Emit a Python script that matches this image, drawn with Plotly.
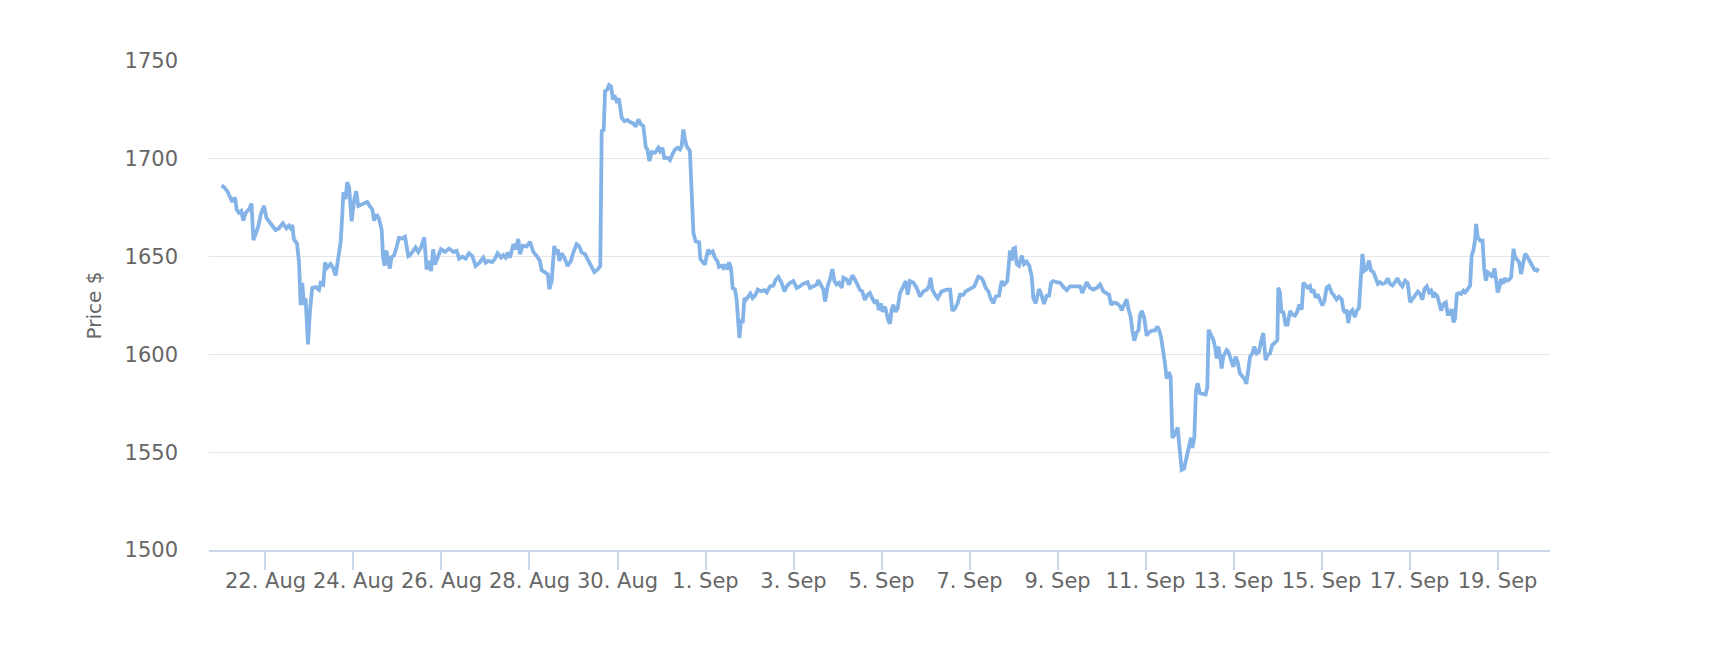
import pandas as pd
import plotly.graph_objects as go

# Hours since 2023-08-21 00:00 and price readings
hours = [
    0, 1.4, 3.2, 4.5, 5.9, 7.4, 8.3, 9.5, 10.8, 11.9, 13.2, 15, 16.4, 17.4, 18.6, 20.1, 21.4, 23.2, 24.5, 25.9,
    27.7, 29.5, 31.4, 33.5, 35.4, 36.8, 38.3, 38.6, 39.5, 41.2, 42.3, 43.2, 44.1, 45, 45.9, 47.2, 48.3, 49.5, 51.4, 53.2,
    54.1, 55.5, 56.5, 57.7, 59.5, 60.8, 62.3, 63.2, 65, 65.9, 66.5, 67.7, 68.6, 69.6, 71, 72.3, 73.5, 74.6, 76.8, 79.5,
    80.8, 82.3, 83.2, 84.6, 85.9, 87.4, 88.1, 89, 89.9, 91, 91.8, 92.8, 94.1, 95.4, 96.8, 98.6, 100.1, 101.9,
    102.8, 104.6, 105.9, 107.4, 108.8, 110.6, 111.9, 112.8, 114.3, 115.5, 116.5, 117.9, 119.7, 121.9, 124.1,
    126.5, 128.3, 129.6, 131.4, 133.2, 135, 136.8, 138.6, 140.5, 142.8, 144.1, 145.5, 147.7, 149.2, 150.6,
    152.5, 153.7, 155, 156.1, 157.4, 159.2, 160.5, 161.9, 162.8, 164.3, 166.5, 168.3, 170.1, 172, 173.7,
    174.6, 176.5, 178, 178.8, 180.1, 181.5, 182.5, 183.4, 184.3, 185.5, 187, 188.8, 190.6, 191.9, 193.7,
    195, 196.5, 198.3, 199.7, 201.5, 203.4, 205.2,
    206.6, 207.4, 208.5, 209.2, 210.3, 211.4, 212.5, 213.4, 214.6, 215.5, 216.8, 218.3, 219.7, 221.5, 222.8,
    224.6, 225.9, 227.4, 228.8, 230.1, 231.4, 232.3, 233.4, 234.6, 236.5, 238.3, 239.2, 240.5, 241.5, 243.4,
    244.6, 245.9, 247.4, 248.8, 250.1, 251, 251.9, 252.8, 253.7, 255.5, 256.5, 257.4, 258.6, 260.5, 261.2,
    262.3, 263.7, 264.6, 265.5, 266.5, 267.9, 269.2, 270.5, 271.4, 272.8, 273.7, 275, 275.9, 276.8, 277.9,
    278.8, 280.1, 281, 281.9, 282.5, 283.4, 284.3, 285.2, 286.1, 287.4, 288.5, 289.7, 291, 292.5, 294.3,
    296.1, 297.4, 299.2, 301, 302.3, 303.7,
    305.5, 307, 308.3, 310.1, 311.9, 313.7, 315.5, 317.4, 319.7, 321, 322.8, 324.6, 325.5, 327, 328.3,
    329.2, 330.6, 331.9, 333.2, 334.3, 335.5, 336.8, 338.3, 339.2, 341, 342.3, 344.1, 345.5, 347, 348.3,
    349.5, 350.9, 352.4, 353.7, 354.9, 356.4, 357.4, 358.6, 359.7, 360.6, 361.9, 362.8, 363.7, 364.6, 365.5,
    366.4, 367.7, 368.8, 370.1, 371.9, 373.2, 374.3, 375.5, 377.4, 379.2, 381, 382.8, 384.6, 385.9, 386.8,
    387.7, 389.2, 390.6, 392.8, 395.5, 397.4, 398.6, 400.1, 401.5, 402.8, 404.6, 405.9, 407.4, 409.2, 410.6,
    412.8, 414.3, 415.5, 416.8, 418.3, 419.5, 421, 422.3, 424.1, 425.5, 427, 428.6, 430.1, 431, 431.9,
    432.8, 433.7, 435, 436.5, 437.7, 439.2, 440.6, 441.9, 442.8, 444.1, 445.9, 447.4, 448.6, 450.1, 451.4,
    452.5, 453.7, 455.5, 457.4, 459.2, 461, 462.8, 464.6, 466.5, 468.3, 469.5, 470.6, 471.9, 473.7, 475.5,
    477.4, 479.2, 481, 482.8, 484.1, 485.2, 486.5, 488.3, 490.1, 491, 492.5, 493.7, 494.6, 495.9, 496.8,
    497.9, 499.2, 500.1, 501, 501.9, 503.2, 504.6, 505.9, 507.4, 509.2, 510.5, 511.5, 512.5,
    514.6, 515.5, 516.8, 517.7, 518.6, 520, 521.5, 522.8, 523.7, 525, 526.4, 527.7, 528.8, 529.5, 530.6,
    531.5, 532.4, 533.7, 535.5, 536.8, 537.7, 538.4, 539.7, 541, 541.9, 542.8, 543.7, 544.6, 545.5, 546.4,
    547.3, 548.2, 549.1, 550.6, 551.9, 553.1, 554.2, 555.5, 556.8, 557.9, 559, 559.7, 561, 562.3, 563.3,
    564.6, 565.9, 567, 568.2, 569.5, 570.6, 571.9, 573.1, 574.6, 575.9, 576.4, 577.3, 578.2, 579.1, 580.4,
    581.5, 582.8, 584.1, 585.5, 586.8, 587.9, 589.2, 590.1, 591, 592.4, 593.7, 594.6, 595.5, 596.8, 597.9,
    599.2, 600.4, 601.5, 602.8, 604.1, 605.5, 607, 608.2, 609.5, 611, 611.9, 612.8, 613.7, 614.6, 615.5,
    616.8, 618.2, 619.1, 620.4,
    621.6, 622.3, 623.4, 624.7, 625.9, 627, 628.3, 629.6, 630.7, 631.9, 633.2, 634.7, 636.1, 637.4, 638.7,
    640.1, 641.4, 642.9, 644.1, 645.6, 647, 648.3, 649.6, 651, 652.5, 653.8, 655, 656.1, 657.4, 658.7,
    659.8, 661, 661.9, 663.2, 664.1, 665.2, 666.5, 667.8, 668.8, 670.1, 671, 671.9, 672.8, 673.8, 675,
    676.1, 677.4, 678.3, 679.8, 681, 681.9, 682.8, 683.8, 684.3, 685.2, 686.5, 687.8, 688.7, 689.6, 690.7,
    691.9, 693.2, 694.3, 695.2, 696.1, 697, 697.9, 698.9, 699.8, 701, 702.3, 703.4, 704.7, 705.6, 706.8,
    707.8, 708.8, 710.1, 711, 711.9, 713.2, 714.6, 716.1, 717.4, 718.3,
]

price = [
    1686.4, 1685.5, 1683.4, 1680.6, 1678, 1680.2, 1674.1, 1672.4, 1673.3, 1668.4, 1672.4, 1674.1, 1677.1, 1658.4, 1661.9,
    1665.4, 1671.5, 1675.9, 1669.8, 1668, 1665.4, 1663.6, 1664.5, 1667.1, 1664.5, 1665.9, 1663.6, 1666.3, 1658.9, 1656.6,
    1647, 1625.2, 1636.5, 1625.2, 1628.7, 1605.1, 1622.6, 1633.9, 1634.4, 1633, 1636.5, 1635.7, 1647, 1644.4, 1646.2,
    1644.4, 1640.4, 1647, 1657.5, 1671.5, 1682.9, 1679.4, 1688.1, 1685.5, 1668, 1678.5, 1683.4, 1675.9, 1676.7, 1678,
    1675.9, 1674.1, 1668.4, 1671.5, 1669.4, 1663.6, 1649.7, 1645.3, 1653.1, 1647.9, 1643.9, 1649.7, 1650.5, 1654.4, 1659.6,
    1659.3, 1660.1, 1650.2,
    1650.7, 1652.9, 1654.7, 1652.4, 1654.7, 1659.8, 1643.4, 1647.8, 1642.6, 1653.8, 1646, 1649.5, 1653.8, 1652.4, 1654.1,
    1652.4, 1652.9, 1649, 1650, 1649, 1651.7, 1650.3, 1645.2, 1646.6, 1649.5, 1646.9, 1647.8, 1647.2, 1649, 1651.7,
    1649.5, 1650.7, 1649.5, 1652.1, 1649.5, 1656.4, 1653.8, 1659, 1651.2, 1655.5, 1655.2, 1657.6, 1652.4, 1650.3, 1647.8,
    1643.1, 1642.1, 1640.9, 1633.4, 1637.4, 1655.5, 1651.2, 1653.8, 1647.8, 1651.7, 1649.5, 1645.2, 1647.8, 1652.1, 1656.4,
    1655.5, 1652.1, 1651.2, 1648.6, 1646, 1642.1, 1643.4,
    1645.1, 1714.2, 1714.7, 1734.6, 1735.2, 1737.7, 1736.9, 1731.2, 1731.7, 1729.5, 1730.7, 1721, 1719.3, 1719.8, 1718.8,
    1718.1, 1716.4, 1720.1, 1717.6, 1716.7, 1706.1, 1704.8, 1698.8, 1703.4, 1703.1, 1705.6, 1703.9, 1705.6, 1700.5, 1700.5,
    1699.3, 1702.2, 1704.8, 1705.6, 1704.8, 1706.5, 1715, 1709.9, 1706.5, 1703.9, 1682.6, 1662.1, 1657.8, 1657.3, 1648.8,
    1647.6, 1645.9, 1650.2, 1653.6, 1651.9, 1652.7, 1649.3, 1647.6, 1644.7, 1645.4, 1644.2, 1645.9, 1643.3, 1647.1, 1644.2,
    1634, 1633.1, 1628, 1616, 1608.4, 1617.7, 1616, 1628.8, 1628, 1629.7, 1631.1, 1628.8, 1630, 1633.1, 1632.3,
    1632.8, 1631.7, 1634.8, 1635.2, 1638.2, 1639.6,
    1636.6, 1632.2, 1634.8, 1636.6, 1637.5, 1634, 1634.8, 1636.2, 1636.9, 1634, 1634.8, 1635.7, 1638, 1635.7, 1633.1,
    1627, 1634.8, 1638.3, 1643.6, 1637.5, 1635.7, 1636.6, 1634, 1639.2, 1638.3, 1635.7, 1640.4, 1638.3, 1634.8, 1632.8,
    1632.2, 1627.9, 1630.5, 1631.4, 1628.7, 1626.1, 1627.9, 1622.6, 1626.1, 1621.8, 1624.4, 1620, 1617.4, 1615.7, 1622.6,
    1625.3, 1621.8, 1623.5, 1631.4, 1634.8, 1637.5, 1630.5, 1637.5, 1636.6, 1634, 1629.6, 1632.2, 1633.1, 1634.8, 1639.2,
    1633.1, 1630.5, 1628.7, 1632.2, 1633.1, 1633.1, 1622.3, 1623.5, 1626.1, 1630.5, 1630.5, 1632.2, 1633.1, 1634, 1634.8,
    1639.7, 1639.2, 1637.5, 1634, 1632.2, 1628.7, 1626.1, 1629.6, 1630, 1637.5, 1635.7, 1637.5, 1653.1, 1647.9, 1654,
    1654.4, 1646.2, 1645.3, 1650.5, 1646.2, 1647.4, 1645.3, 1640.1, 1628.7, 1626.1, 1633.4, 1630, 1625.8, 1630, 1630,
    1636.6, 1637.5, 1636.9, 1636.6, 1634.5, 1632.8, 1634.8, 1634.8, 1635.2, 1634.8, 1631.4, 1634, 1636.9, 1634, 1633.1,
    1634, 1635.7, 1632.2, 1631, 1630.5, 1625.3, 1626.5, 1626.1, 1624.7, 1622.6, 1626.1, 1628.2, 1623.5, 1619.2, 1612.2,
    1607, 1611.3, 1612.2, 1620, 1622.3, 1619.2, 1609.6, 1611.3, 1612.2, 1612.2, 1614.3, 1612.2, 1608.7,
    1595.3, 1587.6, 1591, 1588.4, 1557.4, 1559.1, 1562.6, 1550.5, 1541, 1541.6, 1547.1, 1553.1, 1557.4, 1552.2, 1557.4,
    1581.6, 1585.3, 1580.2, 1579.5, 1579.5, 1583.3, 1612.6, 1610, 1607.4, 1604, 1597.9, 1604, 1599.7, 1592.8, 1598.8,
    1600.5, 1602.2, 1601.4, 1597.1, 1593.6, 1598.8, 1596.2, 1590.2, 1588.4, 1587.6, 1585, 1590.2, 1598.8, 1600.5, 1604,
    1600.5, 1601.4, 1606.6, 1610.9, 1597.1, 1599.7, 1600.5, 1604.8, 1606, 1607.4, 1634.1, 1631.6, 1621.2, 1622.1, 1615.2,
    1615.2, 1622.1, 1620.3, 1619.8, 1622.1, 1625.5, 1622.9, 1636.7, 1635.9, 1634.1, 1635, 1631.6, 1633.3, 1629, 1630.7,
    1627.2, 1625, 1627.2, 1634.1, 1635, 1631.6, 1629.8, 1628.1, 1629.5, 1628.1, 1622.9, 1621.2, 1622.9, 1616, 1621.2,
    1622.6, 1619.1, 1622.1, 1623.8,
    1640.3, 1651.4, 1642.8, 1643.7, 1648, 1642.8, 1642, 1638.6, 1636, 1636.9, 1636, 1636.5, 1638.9, 1636, 1635.2,
    1636.9, 1638.9, 1636, 1634.8, 1637.7, 1636.5, 1626.6, 1628.3, 1630, 1632.1, 1630.9, 1628, 1633.4, 1634.8, 1631.7,
    1632.6, 1629.2, 1630.9, 1629.7, 1626.6, 1622.4, 1625.8, 1626.6, 1620.6, 1620.6, 1623.2, 1616.4, 1618.1, 1630.9, 1631.4,
    1630.9, 1632.6, 1631.7, 1633.4, 1635.2, 1650.5, 1653.1, 1659, 1666.7, 1659.9, 1658.2, 1658.2, 1643.7, 1637.7, 1642,
    1641.1, 1639.4, 1644, 1636.9, 1631.7, 1634.3, 1638.6, 1636, 1638.9, 1637.7, 1638.2, 1639.4, 1653.9, 1649.7, 1648,
    1647.1, 1641.1, 1647.1, 1651.4, 1650.5, 1648, 1645.4, 1643.3, 1642.8, 1644,
]

tick_dates = ["2023-08-22", "2023-08-24", "2023-08-26", "2023-08-28", "2023-08-30", "2023-09-01",
              "2023-09-03", "2023-09-05", "2023-09-07", "2023-09-09", "2023-09-11", "2023-09-13",
              "2023-09-15", "2023-09-17", "2023-09-19"]
tick_labels = ["22. Aug", "24. Aug", "26. Aug", "28. Aug", "30. Aug", "1. Sep", "3. Sep", "5. Sep",
               "7. Sep", "9. Sep", "11. Sep", "13. Sep", "15. Sep", "17. Sep", "19. Sep"]

start = pd.Timestamp("2023-08-21 00:00")
n = min(len(hours), len(price))
times = start + pd.to_timedelta(pd.Series(hours[:n]), unit="h")

FONT = "DejaVu Sans, Verdana, sans-serif"
TXT = "#666666"

fig = go.Figure()
fig.add_trace(go.Scatter(
    x=times, y=price[:n], mode="lines",
    line=dict(color="#84b3e8", width=3.8),
    hoverinfo="skip", showlegend=False,
))

# the page body adds an 8px margin, so the figure is sized/offset to compensate
fig.update_layout(
    width=1694, height=640,
    margin=dict(l=201, r=152, t=53, b=98),
    paper_bgcolor="white", plot_bgcolor="white",
    font=dict(family=FONT, color=TXT, size=21),
    showlegend=False,
)

fig.update_xaxes(
    range=[start - pd.Timedelta(hours=6.8), start + pd.Timedelta(hours=724.6)],
    tickvals=pd.to_datetime(tick_dates), ticktext=tick_labels,
    showgrid=False, zeroline=False,
    showline=True, linecolor="#ccd6eb", linewidth=2,
    ticks="outside", ticklen=18, tickwidth=1.5, tickcolor="#ccd6eb",
    ticklabelstandoff=-7,
    tickfont=dict(size=21, color=TXT, family=FONT),
)
fig.update_yaxes(
    range=[1500, 1750], dtick=50, tick0=1500,
    showgrid=True, gridcolor="#e6e6e6", gridwidth=1.3,
    zeroline=False, showline=False, ticks="",
    ticklabelstandoff=30,
    tickfont=dict(size=21, color=TXT, family=FONT),
    title=dict(text="Price $", font=dict(size=20, color=TXT, family=FONT), standoff=17),
)

fig.write_html("out.html")
